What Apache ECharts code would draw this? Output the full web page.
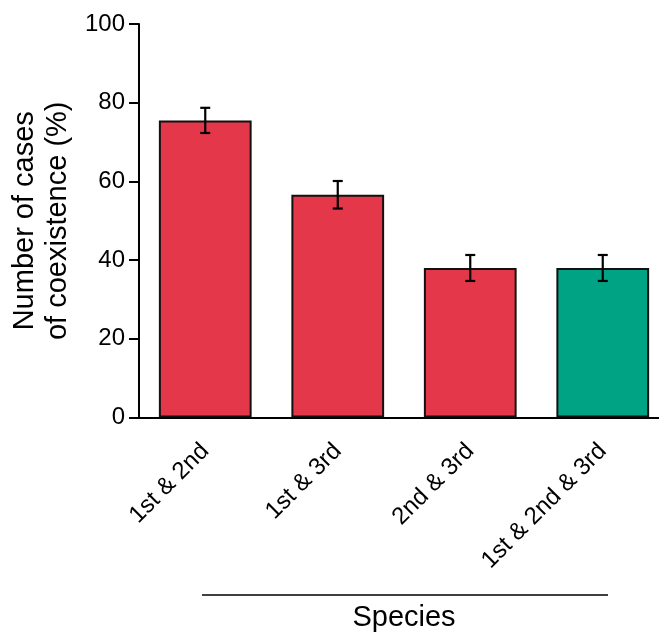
<!DOCTYPE html>
<html><head><meta charset="utf-8">
<script src="https://cdn.jsdelivr.net/npm/echarts@6/dist/echarts.min.js"></script>
<style>html,body{margin:0;padding:0;background:#fff}#c{width:659px;height:632px}</style>
</head><body><div id="c"></div>
<script>
const categories = ['1st & 2nd', '1st & 3rd', '2nd & 3rd', '1st & 2nd & 3rd'];
const values = [75.5, 56.6, 38.0, 38.0];
const errors = [3.2, 3.5, 3.3, 3.3];
const barColors = ['#E5374A', '#E5374A', '#E5374A', '#00A384'];
const yTicks = [0, 20, 40, 60, 80, 100];

const chart = echarts.init(document.getElementById('c'));
const font = 'Liberation Sans, Arial, sans-serif';
chart.setOption({
  animation: false,
  grid: { left: 139, top: 24, width: 530, height: 393.5, containLabel: false, outerBoundsMode: 'none' },
  xAxis: {
    type: 'category', data: categories,
    axisLine: { lineStyle: { color: '#000', width: 2 } },
    axisTick: { alignWithLabel: true, length: 10, lineStyle: { color: '#000', width: 2 } },
    axisLabel: { rotate: 45, margin: 30, color: '#000', fontSize: 24, fontFamily: font, interval: 0 },
    name: 'Species', nameLocation: 'middle', nameGap: 186,
    nameTextStyle: { fontSize: 29, color: '#000', fontFamily: font }
  },
  yAxis: {
    type: 'value', min: yTicks[0], max: yTicks[yTicks.length - 1], interval: 20,
    splitLine: { show: false },
    axisLine: { show: true, lineStyle: { color: '#000', width: 2 } },
    axisTick: { show: true, length: 10, lineStyle: { color: '#000', width: 2 } },
    axisLabel: { margin: 14, color: '#000', fontSize: 24, fontFamily: font },
    name: 'Number of cases\nof coexistence (%)', nameLocation: 'middle', nameGap: 54, nameRotate: 90,
    nameTextStyle: { fontSize: 29, lineHeight: 33, color: '#000', fontFamily: font, align: 'center' }
  },
  series: [
    {
      type: 'bar', barCategoryGap: '30%',
      data: values.map((v, i) => ({ value: v, itemStyle: { color: barColors[i] } })),
      itemStyle: { borderColor: '#111', borderWidth: 2 }
    },
    {
      type: 'custom', z: 5,
      data: values.map((v, i) => [i, v - errors[i], v + errors[i]]),
      renderItem: function (params, api) {
        const lo = api.coord([api.value(0), api.value(1)]);
        const hi = api.coord([api.value(0), api.value(2)]);
        const w = 5;
        const st = { stroke: '#000', lineWidth: 2.2 };
        return { type: 'group', children: [
          { type: 'line', shape: { x1: lo[0], y1: lo[1], x2: hi[0], y2: hi[1] }, style: st },
          { type: 'line', shape: { x1: lo[0] - w, y1: lo[1], x2: lo[0] + w, y2: lo[1] }, style: st },
          { type: 'line', shape: { x1: hi[0] - w, y1: hi[1], x2: hi[0] + w, y2: hi[1] }, style: st }
        ]};
      }
    }
  ],
  graphic: [
    { type: 'line', shape: { x1: 202, y1: 595, x2: 608, y2: 595 }, style: { stroke: '#000', lineWidth: 1.5 } }
  ]
});
</script></body></html>
